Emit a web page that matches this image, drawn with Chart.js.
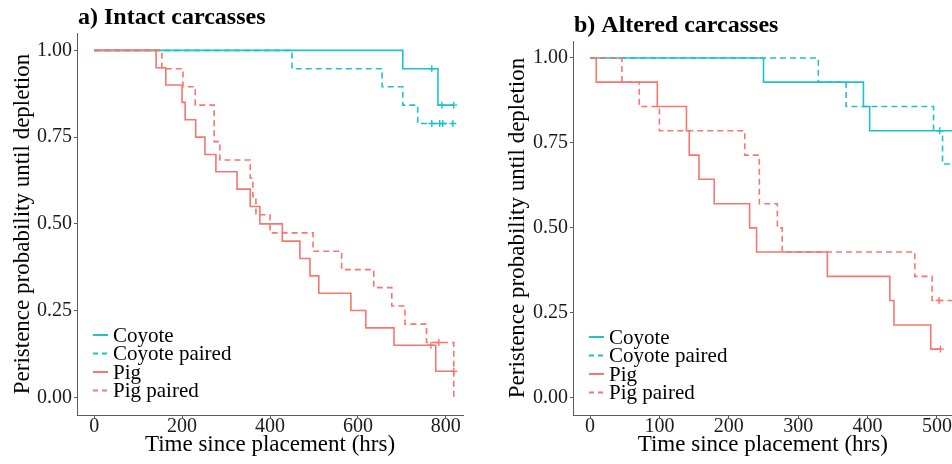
<!DOCTYPE html>
<html>
<head>
<meta charset="utf-8">
<script src="https://cdn.jsdelivr.net/npm/chart.js@4.4.1/dist/chart.umd.min.js"></script>
<style>
  html, body { margin: 0; padding: 0; background: #fff; overflow: hidden; }
  #wrap { position: relative; width: 952px; height: 464px; overflow: hidden; }
  canvas { position: absolute; top: 0; }
  #intact { left: 0; }
  #altered { left: 476px; }
</style>
</head>
<body>
<div id="wrap">
  <canvas id="intact" width="476" height="464"></canvas>
  <canvas id="altered" width="482" height="464"></canvas>
</div>
<script>
// tick labels
const intactTicksX = [0, 200, 400, 600, 800];
const alteredTicksX = [0, 100, 200, 300, 400, 500];
const probTicks = [0, 0.25, 0.5, 0.75, 1];
const seriesNames = ["Coyote", "Coyote paired", "Pig", "Pig paired"];

// a) intact carcasses (hours, survival)
const intactCoyoteT = [0, 702, 782, 818];
const intactCoyoteS = [1, 0.947, 0.842, 0.842];
const intactCoyoteCensT = [768, 791, 818];
const intactCoyoteCensS = [0.947, 0.842, 0.842];

const intactCoyotePairedT = [0, 450, 655, 702, 736, 816];
const intactCoyotePairedS = [1, 0.947, 0.895, 0.842, 0.789, 0.789];
const intactCoyotePairedCensT = [768, 786, 793, 816];
const intactCoyotePairedCensS = [0.789, 0.789, 0.789, 0.789];

const intactPigT = [0, 141, 163, 200, 207, 231, 252, 277, 325, 355, 377, 428, 468, 491, 511, 584, 618, 682, 777, 818];
const intactPigS = [1, 0.95, 0.90, 0.85, 0.80, 0.75, 0.70, 0.65, 0.60, 0.55, 0.50, 0.45, 0.40, 0.35, 0.30, 0.25, 0.20, 0.15, 0.075, 0.075];
const intactPigCensT = [766, 818];
const intactPigCensS = [0.15, 0.075];

const intactPigPairedT = [0, 154, 202, 230, 273, 286, 355, 361, 368, 400, 498, 563, 636, 677, 707, 756, 818];
const intactPigPairedS = [1, 0.947, 0.895, 0.842, 0.737, 0.684, 0.632, 0.579, 0.526, 0.474, 0.421, 0.368, 0.316, 0.263, 0.211, 0.158, 0];
const intactPigPairedCensT = [784];
const intactPigPairedCensS = [0.158];

// b) altered carcasses
const alteredCoyoteT = [0, 250, 394, 403, 560];
const alteredCoyoteS = [1, 0.929, 0.857, 0.786, 0.786];
const alteredCoyoteCensT = [504];
const alteredCoyoteCensS = [0.786];

const alteredCoyotePairedT = [0, 329, 369, 495, 508, 560];
const alteredCoyotePairedS = [1, 0.929, 0.857, 0.786, 0.688, 0.688];
const alteredCoyotePairedCensT = [];
const alteredCoyotePairedCensS = [];

const alteredPigT = [0, 9, 97, 139, 143, 157, 179, 230, 240, 342, 432, 438, 491, 505];
const alteredPigS = [1, 0.929, 0.857, 0.786, 0.714, 0.643, 0.571, 0.5, 0.429, 0.357, 0.286, 0.214, 0.143, 0.143];
const alteredPigCensT = [505];
const alteredPigCensS = [0.143];

const alteredPigPairedT = [0, 46, 71, 100, 223, 244, 270, 277, 468, 493, 560];
const alteredPigPairedS = [1, 0.929, 0.857, 0.786, 0.714, 0.571, 0.5, 0.429, 0.357, 0.286, 0.286];
const alteredPigPairedCensT = [503];
const alteredPigPairedCensS = [0.286];

const teal = "#1EC3C8";
const coral = "#F8766D";
const axisGrey = "#5a5a5a";

Chart.defaults.font.family = '"Liberation Serif", "Times New Roman", serif';

function pts(ts, ss) {
  return ts.map((t, i) => ({ x: t, y: ss[i] }));
}

function curve(label, color, dashed, ts, ss, order) {
  return {
    label: label,
    data: pts(ts, ss),
    borderColor: color,
    borderWidth: 1.6,
    borderDash: dashed ? [6, 4] : [],
    stepped: "before",
    pointRadius: 0,
    fill: false,
    order: order
  };
}

function marks(color, ts, ss, order) {
  return {
    label: "",
    censor: true,
    data: pts(ts, ss),
    showLine: false,
    borderColor: color,
    backgroundColor: color,
    pointStyle: "cross",
    pointRadius: 3.5,
    pointBorderWidth: 1.4,
    order: order
  };
}

// panel title + legend drawn inside the plot
const panelDecor = {
  id: "panelDecor",
  afterDraw(chart, args, opts) {
    const { ctx, chartArea } = chart;
    ctx.save();
    ctx.fillStyle = "#000";
    ctx.font = 'bold 24px "Liberation Serif"';
    ctx.textBaseline = "alphabetic";
    ctx.fillText(opts.title, chartArea.left + 1, chartArea.top - 9);

    ctx.font = '21px "Liberation Serif"';
    ctx.textBaseline = "middle";
    const items = chart.data.datasets.filter(d => !d.censor);
    items.forEach((d, i) => {
      const y = chartArea.bottom - opts.legendBottom + i * 18.5;
      const x0 = chartArea.left + opts.legendLeft;
      ctx.strokeStyle = d.borderColor;
      ctx.lineWidth = 2;
      ctx.setLineDash(d.borderDash.length ? [5, 4] : []);
      ctx.beginPath();
      ctx.moveTo(x0, y);
      ctx.lineTo(x0 + 15, y);
      ctx.stroke();
      ctx.fillStyle = "#000";
      ctx.fillText(d.label, x0 + 20, y + 1);
    });
    ctx.restore();
  }
};

function buildPanel(id, cfg) {
  new Chart(document.getElementById(id), {
    type: "line",
    data: { datasets: cfg.datasets },
    options: {
      responsive: false,
      animation: false,
      devicePixelRatio: 1,
      layout: { padding: { top: cfg.top, right: cfg.right, left: 0, bottom: 0 } },
      plugins: {
        legend: { display: false },
        tooltip: { enabled: false },
        panelDecor: { title: cfg.title, legendLeft: 16, legendBottom: cfg.legendBottom }
      },
      scales: {
        x: {
          type: "linear",
          min: cfg.xMin,
          max: cfg.xMax,
          afterBuildTicks: s => { s.ticks = cfg.xTicks.map(v => ({ value: v })); },
          afterFit: s => { s.height = 49; },
          grid: { drawOnChartArea: false, drawTicks: true, tickLength: 3, color: axisGrey },
          border: { display: true, color: axisGrey, width: 1 },
          ticks: { font: { size: 20, lineHeight: 1 }, color: "#1a1a1a", padding: -1, maxRotation: 0, autoSkip: false },
          title: { display: true, text: "Time since placement (hrs)", font: { size: 23 }, color: "#000", padding: { top: 0, bottom: 5 } }
        },
        y: {
          min: -0.051,
          max: 1.05,
          afterBuildTicks: s => { s.ticks = probTicks.map(v => ({ value: v })); },
          afterFit: s => { s.width = cfg.yWidth; },
          grid: { drawOnChartArea: false, drawTicks: true, tickLength: 3, color: axisGrey },
          border: { display: true, color: axisGrey, width: 1 },
          ticks: { font: { size: 20 }, color: "#1a1a1a", padding: 2, callback: v => v.toFixed(2) },
          title: { display: true, text: "Peristence probability until depletion", font: { size: 23 }, color: "#000", padding: { top: cfg.yTitlePad, bottom: 0 } }
        }
      }
    },
    plugins: [panelDecor]
  });
}

buildPanel("intact", {
  title: "a) Intact carcasses",
  top: 33, right: 13, yWidth: 77, yTitlePad: 9, legendBottom: 80,
  xMin: -39, xMax: 839, xTicks: intactTicksX,
  datasets: [
    curve(seriesNames[0], teal, false, intactCoyoteT, intactCoyoteS, 4),
    curve(seriesNames[1], teal, true, intactCoyotePairedT, intactCoyotePairedS, 3),
    curve(seriesNames[2], coral, false, intactPigT, intactPigS, 2),
    curve(seriesNames[3], coral, true, intactPigPairedT, intactPigPairedS, 1),
    marks(teal, intactCoyoteCensT, intactCoyoteCensS, 0),
    marks(teal, intactCoyotePairedCensT, intactCoyotePairedCensS, 0),
    marks(coral, intactPigCensT, intactPigCensS, 0),
    marks(coral, intactPigPairedCensT, intactPigPairedCensS, 0)
  ]
});

// right panel is cut off at the window edge, as in the original
buildPanel("altered", {
  title: "b) Altered carcasses",
  top: 41, right: 0, yWidth: 97, yTitlePad: 28, legendBottom: 78,
  xMin: -24.5, xMax: 522.5, xTicks: alteredTicksX,
  datasets: [
    curve(seriesNames[0], teal, false, alteredCoyoteT, alteredCoyoteS, 4),
    curve(seriesNames[1], teal, true, alteredCoyotePairedT, alteredCoyotePairedS, 3),
    curve(seriesNames[2], coral, false, alteredPigT, alteredPigS, 2),
    curve(seriesNames[3], coral, true, alteredPigPairedT, alteredPigPairedS, 1),
    marks(teal, alteredCoyoteCensT, alteredCoyoteCensS, 0),
    marks(teal, alteredCoyotePairedCensT, alteredCoyotePairedCensS, 0),
    marks(coral, alteredPigCensT, alteredPigCensS, 0),
    marks(coral, alteredPigPairedCensT, alteredPigPairedCensS, 0)
  ]
});
</script>
</body>
</html>
